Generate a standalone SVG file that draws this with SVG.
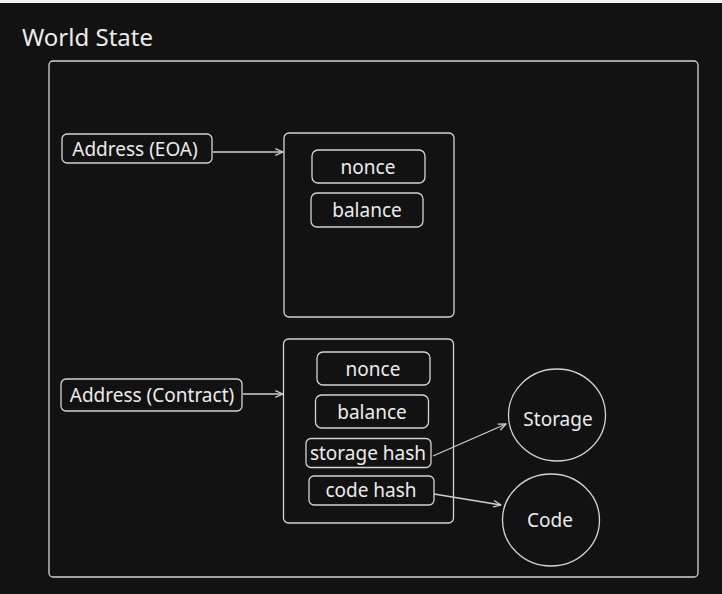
<svg xmlns="http://www.w3.org/2000/svg" width="722" height="594" viewBox="0 0 722 594">
  <defs>
    <style>
      .bg { fill: #121212; }
      .box { fill: none; stroke: #d4d4d4; stroke-width: 1.3; }
      .field { fill: #121212; stroke: #d4d4d4; stroke-width: 1.3; }
      .lbl { font-family: "Noto Sans", "Open Sans", sans-serif; font-size: 19px; fill: #ececec; text-anchor: middle; }
      .title { font-family: "Noto Sans", "Open Sans", sans-serif; font-size: 24px; fill: #ececec; }
      .conn { fill: none; stroke: #cfcfcf; stroke-width: 1.3; }
    </style>
    <marker id="arrow" viewBox="0 0 10 10" refX="9" refY="5" markerWidth="9" markerHeight="9" markerUnits="userSpaceOnUse" orient="auto">
      <path d="M1,1.5 L9,5 L1,8.5" fill="none" stroke="#cfcfcf" stroke-width="1.4" stroke-linecap="round" stroke-linejoin="round"/>
    </marker>
  </defs>

  <rect class="bg" x="0" y="0" width="722" height="594"/>
  <rect x="0" y="0" width="722" height="3" fill="#f2f2f2"/>

  <g id="world-state">
    <text class="title" x="22" y="46">World State</text>
    <rect class="box" x="49" y="61" width="649" height="516" rx="4"/>
  </g>

  <g id="address-eoa">
    <rect class="field" x="62" y="134" width="150" height="29" rx="5"/>
    <text class="lbl" x="135" y="155.5">Address (EOA)</text>
  </g>

  <g id="eoa-account">
    <rect class="box" x="284" y="133" width="170" height="184" rx="5"/>
  </g>
  <g id="eoa-nonce">
    <rect class="field" x="312" y="150" width="113" height="33" rx="6"/>
    <text class="lbl" x="368" y="174">nonce</text>
  </g>
  <g id="eoa-balance">
    <rect class="field" x="311" y="193" width="112" height="34" rx="6"/>
    <text class="lbl" x="367" y="216.7">balance</text>
  </g>

  <g id="address-contract">
    <rect class="field" x="61" y="379" width="181" height="32" rx="5"/>
    <text class="lbl" x="152" y="401.5">Address (Contract)</text>
  </g>

  <g id="contract-account">
    <rect class="box" x="283.5" y="339" width="170" height="184" rx="5"/>
  </g>
  <g id="contract-nonce">
    <rect class="field" x="317" y="352" width="113" height="33" rx="6"/>
    <text class="lbl" x="373" y="375.5">nonce</text>
  </g>
  <g id="contract-balance">
    <rect class="field" x="315.5" y="395" width="113" height="33" rx="6"/>
    <text class="lbl" x="372" y="418.5">balance</text>
  </g>
  <g id="storage-hash">
    <rect class="field" x="306" y="438.5" width="125" height="29" rx="5"/>
    <text class="lbl" x="368" y="459.5">storage hash</text>
  </g>
  <g id="code-hash">
    <rect class="field" x="309" y="476" width="125" height="29" rx="5"/>
    <text class="lbl" x="371" y="497">code hash</text>
  </g>

  <g id="storage">
    <ellipse class="field" cx="557" cy="415" rx="48.5" ry="46"/>
    <text class="lbl" x="558" y="426">Storage</text>
  </g>
  <g id="code">
    <ellipse class="field" cx="551" cy="520" rx="48.5" ry="46"/>
    <text class="lbl" x="550" y="527">Code</text>
  </g>

  <g id="connectors">
    <path class="conn" d="M213,152 L283,152" marker-end="url(#arrow)"/>
    <path class="conn" d="M243,394 L283,394" marker-end="url(#arrow)"/>
    <path class="conn" d="M433,456 L506,424" marker-end="url(#arrow)"/>
    <path class="conn" d="M434,494 L501,505" marker-end="url(#arrow)"/>
  </g>
</svg>
